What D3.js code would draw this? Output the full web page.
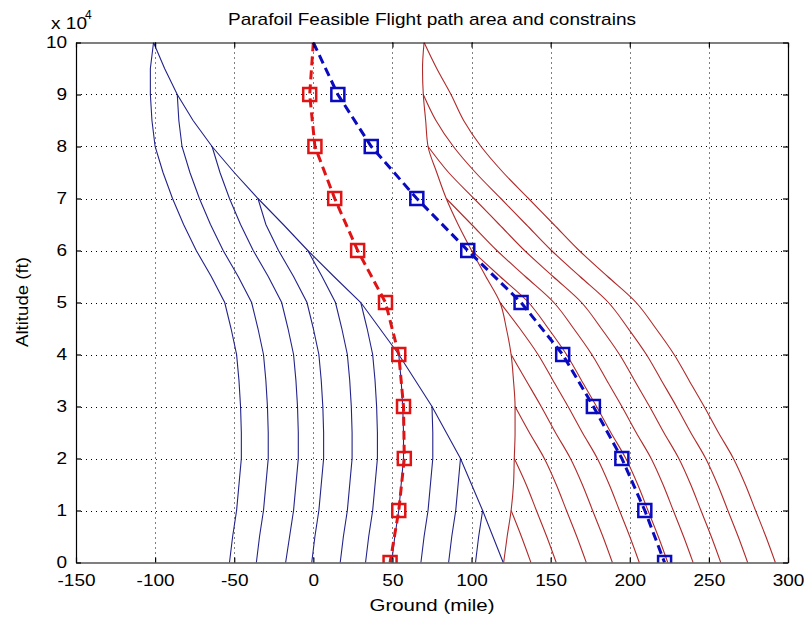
<!DOCTYPE html>
<html><head><meta charset="utf-8">
<script src="https://cdn.jsdelivr.net/npm/d3@7"></script>
<style>
body{margin:0;background:#fff}
text{font-family:"Liberation Sans",Arial,Helvetica,sans-serif;fill:#000}
</style>
</head><body>
<svg id="chart" width="809" height="620"></svg>
<script>
// ---------- data (x = ground in miles, altitude in units of 10^4 ft) ----------
const altitudes = [10, 9.5, 9, 8.5, 8, 7.5, 7, 6.5, 6, 5.5, 5, 4.5, 4, 3.5, 3, 2.5, 2, 1.5, 1, 0.5, 0];
const xTicks = [-150, -100, -50, 0, 50, 100, 150, 200, 250, 300];
const yTicks = [0, 1, 2, 3, 4, 5, 6, 7, 8, 9, 10];

// blue family (left constraint), each curve starts at the given altitude
const blueDrift    = [-101, -103, -103, -102, -100, -95, -89, -82, -74, -64.5, -56, -52, -48.5, -47, -46, -45.5, -45.5, -47, -48.5, -51, -53];
const blueEnvelope = [-101, -94, -86, -76, -64, -50, -35, -19, -3.5, 13, 30, 42, 54, 64.5, 75, 84, 93, 100, 107, 113.5, 120];
const blueBranch9 = [-86, -85, -83, -78, -72, -65, -57, -47.5, -39, -35, -31.5, -30, -29, -28.5, -28.5, -30, -31.5, -34, -36];
const blueBranch8 = [-64, -59, -53, -46, -38, -28.5, -20, -16, -12.5, -11, -10, -9.5, -9.5, -11, -12.5, -15, -17.5];
const blueBranch7 = [-35, -30, -22, -12.5, -4, 0, 3.5, 5, 6, 6.5, 6.5, 5, 3.5, 1, -1];
const blueBranch6 = [-3.5, 5.5, 14, 18, 21.5, 23, 24, 24.5, 24.5, 23, 21.5, 19, 17];
const blueBranch5 = [30, 34, 37.5, 39, 40, 40.5, 40.5, 39, 37.5, 35, 33];
const blueBranch4 = [54, 55.5, 56.5, 57, 57, 55.5, 54, 51.5, 49.5];
const blueBranch3 = [75, 75.5, 75.5, 74, 72.5, 70, 68];
const blueBranch2 = [93, 91.5, 90, 87.5, 85.5];
const blueBranch1 = [107, 104.5, 102.5];

// red family (right constraint)
const redDrift    = [70, 69, 69.5, 71, 72.5, 78, 84, 91.5, 100, 109, 118, 122, 125, 126.5, 127.5, 127.5, 127, 126.5, 125, 122.5, 120.3];
const redEnvelope = [70, 78, 87, 95, 106, 120, 136, 152, 168, 186, 204, 216.5, 228, 237.5, 247, 256, 265.5, 273, 279.5, 286, 292];
const redBranch9 = [69.5, 77.5, 88.5, 102.5, 118.5, 134.5, 150.5, 168.5, 186.5, 199, 210.5, 220, 229.5, 238.5, 248, 255.5, 262, 268.5, 274.5];
const redBranch8 = [72.5, 85.5, 101.5, 117.5, 133.5, 151.5, 169.5, 182, 193.5, 203, 212.5, 221.5, 231, 238.5, 245, 251.5, 257.5];
const redBranch7 = [84, 100, 116, 134, 152, 164.5, 176, 185.5, 195, 204, 213.5, 221, 227.5, 234, 240];
const redBranch6 = [100, 118, 136, 148.5, 160, 169.5, 179, 188, 197.5, 205, 211.5, 218, 224];
const redBranch5 = [118, 130.5, 142, 151.5, 161, 170, 179.5, 187, 193.5, 200, 206];
const redBranch4 = [125, 134.5, 144, 153, 162.5, 170, 176.5, 183, 189];
const redBranch3 = [127.5, 136.5, 146, 153.5, 160, 166.5, 172.5];
const redBranch2 = [127, 134.5, 141, 147.5, 153.5];
const redBranch1 = [125, 131.5, 137.5];

// flight paths with square markers
const pathAltitudes = [10, 9, 8, 7, 6, 5, 4, 3, 2, 1, 0];
const redPath  = [0, -2.3, 1, 13.5, 28, 45.6, 54, 57, 57.5, 54, 48.5];
const bluePath = [0, 15.5, 36.6, 65.4, 97.6, 131.3, 157.6, 177, 195, 209.5, 222];

// ---------- drawing ----------
const L = 76, R = 788, T = 42.5, B = 562.5;
const svg = d3.select("#chart");
const x = d3.scaleLinear().domain([-150, 300]).range([L, R]);
const y = d3.scaleLinear().domain([0, 10]).range([B, T]);

svg.append("rect").attr("width", 809).attr("height", 620).attr("fill", "#fff");
svg.append("clipPath").attr("id", "clip").append("rect")
  .attr("x", L).attr("y", T).attr("width", R - L).attr("height", B - T);

// grid
const grid = svg.append("g").attr("stroke", "#000").attr("stroke-width", 1)
  .attr("stroke-dasharray", "1,4").attr("fill", "none");
xTicks.slice(1, -1).forEach(v => grid.append("line")
  .attr("x1", Math.round(x(v)) + 0.5).attr("x2", Math.round(x(v)) + 0.5).attr("y1", T).attr("y2", B));
yTicks.slice(1, -1).forEach(v => grid.append("line")
  .attr("y1", Math.round(y(v)) + 0.5).attr("y2", Math.round(y(v)) + 0.5).attr("x1", L).attr("x2", R));

const line = d3.line().x(d => x(d[0])).y(d => y(d[1]));
const smooth = d3.line().x(d => x(d[0])).y(d => y(d[1])).curve(d3.curveMonotoneY);
function curve(startAlt, values) {
  const alts = altitudes.slice(altitudes.indexOf(startAlt));
  return values.map((v, i) => [v, alts[i]]);
}
const plot = svg.append("g").attr("clip-path", "url(#clip)");

const blueCurves = [
  curve(10, blueDrift), curve(10, blueEnvelope),
  curve(9, blueBranch9), curve(8, blueBranch8), curve(7, blueBranch7), curve(6, blueBranch6),
  curve(5, blueBranch5), curve(4, blueBranch4), curve(3, blueBranch3), curve(2, blueBranch2), curve(1, blueBranch1)
];
const redCurves = [
  curve(10, redDrift), curve(10, redEnvelope),
  curve(9, redBranch9), curve(8, redBranch8), curve(7, redBranch7), curve(6, redBranch6),
  curve(5, redBranch5), curve(4, redBranch4), curve(3, redBranch3), curve(2, redBranch2), curve(1, redBranch1)
];
plot.selectAll(".bc").data(blueCurves).join("path").attr("class", "bc")
  .attr("d", line).attr("fill", "none").attr("stroke", "#23238a").attr("stroke-width", 1.1);
plot.selectAll(".rc").data(redCurves).join("path").attr("class", "rc")
  .attr("d", smooth).attr("fill", "none").attr("stroke", "#b02a2a").attr("stroke-width", 1.1);

function flightPath(values, color) {
  const pts = values.map((v, i) => [v, pathAltitudes[i]]);
  plot.append("path").attr("d", line(pts)).attr("fill", "none")
    .attr("stroke", color).attr("stroke-width", 3).attr("stroke-dasharray", "9,5");
  plot.selectAll(null).data(pts.slice(1)).join("rect")
    .attr("x", d => x(d[0]) - 6.5).attr("y", d => y(d[1]) - 6.5)
    .attr("width", 13).attr("height", 13)
    .attr("fill", "none").attr("stroke", color).attr("stroke-width", 2.5);
}
flightPath(redPath, "#e01414");
flightPath(bluePath, "#0a0ac0");

// axes (ticks inside on all four sides)
const fmt = v => String(v);
svg.append("g").attr("transform", `translate(0,${B})`)
  .call(d3.axisBottom(x).tickValues(xTicks).tickFormat(fmt).tickSizeInner(-5).tickSizeOuter(0).tickPadding(11));
svg.append("g").attr("transform", `translate(${L},0)`)
  .call(d3.axisLeft(y).tickValues(yTicks).tickFormat(fmt).tickSizeInner(-5).tickSizeOuter(0).tickPadding(8));
svg.append("g").attr("transform", `translate(0,${T})`)
  .call(d3.axisTop(x).tickValues(xTicks).tickFormat("").tickSizeInner(-5).tickSizeOuter(0));
svg.append("g").attr("transform", `translate(${R},0)`)
  .call(d3.axisRight(y).tickValues(yTicks).tickFormat("").tickSizeInner(-5).tickSizeOuter(0));
svg.selectAll(".domain, .tick line").attr("stroke", "#000").attr("stroke-width", 1.2);
svg.selectAll(".tick text").attr("font-size", 17)
  .attr("font-family", "'Liberation Sans', Arial, sans-serif").attr("transform", "scale(1.12,1)");

// texts
svg.append("text").attr("x", 432).attr("y", 25).attr("text-anchor", "middle")
  .attr("font-size", 17).attr("textLength", 408).attr("lengthAdjust", "spacingAndGlyphs")
  .text("Parafoil Feasible Flight path area and constrains");
svg.append("text").attr("x", 432).attr("y", 611).attr("text-anchor", "middle")
  .attr("font-size", 17).attr("textLength", 125).attr("lengthAdjust", "spacingAndGlyphs")
  .text("Ground (mile)");
svg.append("text").attr("transform", "translate(28,302) rotate(-90)").attr("text-anchor", "middle")
  .attr("font-size", 17).attr("textLength", 90).attr("lengthAdjust", "spacingAndGlyphs")
  .text("Altitude (ft)");
const mult = svg.append("text").attr("x", 51).attr("y", 29).attr("font-size", 17)
  .attr("textLength", 36).attr("lengthAdjust", "spacingAndGlyphs");
mult.append("tspan").text("x 10");
svg.append("text").attr("x", 85).attr("y", 19).attr("font-size", 12).text("4");
</script>
</body></html>
